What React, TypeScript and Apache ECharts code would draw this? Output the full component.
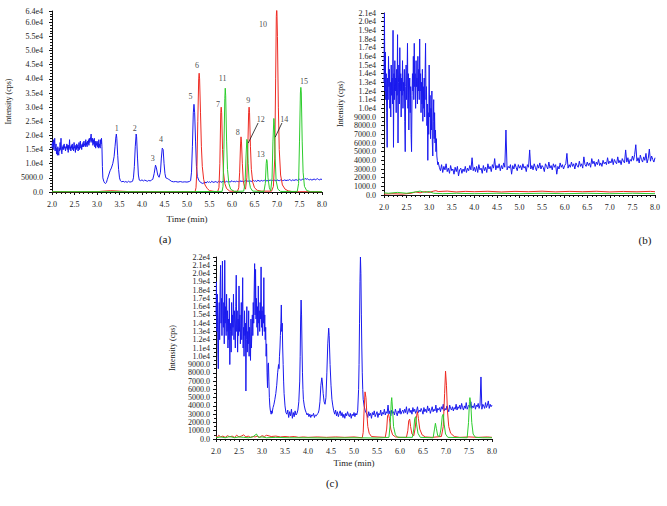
import React, { useEffect, useRef } from "react";
import * as echarts from "echarts";

// ---------- shared axis settings ----------
const X_MIN = 2.0;
const X_MAX = 8.0;
const X_INTERVAL = 0.5;
const Y_MAX_A = 64000;
const Y_MAX_B = 21000;
const Y_MAX_C = 22000;
const Y_INT_A = 5000;
const Y_INT_B = 1000;
const Y_INT_C = 1000;
const PANEL_LABELS = ["(a)", "(b)", "(c)"];

type Seg = { t0: number; dt: number; v: number[] };
type Pt = [number, number];

// ---------- panel (a) ----------
const A_BLUE_NOISE: Seg = {
  t0: 2.0,
  dt: 0.01,
  v: [
    15500, 17500, 16000, 18500, 15000, 16500, 19000, 14500, 16000, 17000,
    13500, 15500, 13000, 16000, 14000, 13000, 15500, 14500, 17500, 15000,
    19000, 14000, 13500, 16000, 15000, 16500, 15000, 17000, 15500, 16000,
    14500, 16000, 15500, 17000, 15000, 16500, 14000, 16500, 15500, 18500,
    15000, 16000, 14500, 16500, 15500, 17000, 15000, 16000, 14500, 17500,
    15500, 16000, 14000, 16500, 15000, 17000, 15500, 16500, 14500, 16000,
    17500, 15000, 16500, 18000, 15500, 16500, 15000, 17000, 16000, 17500,
    16000, 18000, 16500, 17000, 16000, 18500, 16500, 17500, 16000, 18000,
    17000, 18500, 16500, 19000, 17500, 18000, 19500, 20500, 18000, 17500,
    19000, 16500, 18500, 17000, 19000, 16000, 18000, 15500, 17500, 16500,
    18000, 16000, 17500, 15500, 18500, 16000, 17000, 15500, 18500, 17000,
    19000, 16000,
  ],
};
const A_BLUE_MID: Pt[] = [
  [3.12, 9000], [3.13, 5000], [3.15, 3800], [3.17, 3200], [3.19, 3000], [3.21, 3400],
  [3.23, 4500], [3.26, 6000], [3.29, 7500], [3.32, 8500], [3.35, 10000], [3.38, 12500],
  [3.4, 16000], [3.42, 19500], [3.43, 20500], [3.44, 19000], [3.46, 13000], [3.48, 8000],
  [3.5, 5000], [3.52, 4000], [3.55, 3600], [3.58, 3800], [3.61, 3500], [3.64, 3700],
  [3.67, 3400], [3.7, 3800], [3.73, 3500], [3.76, 3600], [3.79, 3800], [3.81, 5000],
  [3.83, 9000], [3.85, 16000], [3.87, 20500], [3.88, 19500], [3.9, 12000], [3.92, 6000],
  [3.94, 4200], [3.97, 4000], [4.0, 4300], [4.03, 3900], [4.06, 4200], [4.09, 4000],
  [4.12, 3800], [4.15, 4100], [4.18, 3900], [4.21, 4200], [4.24, 4500], [4.27, 6500],
  [4.3, 9500], [4.32, 8500], [4.35, 6000], [4.38, 5200], [4.41, 7000], [4.43, 12000],
  [4.45, 15500], [4.47, 15000], [4.49, 10000], [4.51, 6500], [4.53, 5000], [4.56, 4800],
  [4.59, 4500], [4.62, 4200], [4.65, 3800], [4.7, 3600], [4.75, 3700], [4.8, 3500],
  [4.85, 3700], [4.9, 3500], [4.95, 3600], [5.0, 3500], [5.05, 3700], [5.08, 4000],
  [5.1, 7000], [5.12, 16000], [5.14, 28000], [5.155, 31000], [5.17, 28000], [5.19, 18000],
  [5.21, 9000], [5.23, 5500], [5.26, 4200], [5.3, 3400], [5.35, 3000],
];
const A_BLUE_TAIL: Seg = {
  t0: 5.4,
  dt: 0.025,
  v: [
    3500, 3200, 3700, 3400, 3600, 3300, 3800, 3500, 3400, 3700, 3600, 3300, 3800, 3500, 3700, 3400, 3900, 3600, 3500, 3800,
    3600, 3900, 3500, 3700, 4000, 3600, 3800, 3500, 3900, 3700, 3600, 4000, 3700, 3900, 3600, 3800, 4100, 3700, 3900, 3800,
    4000, 3700, 3900, 4100, 3800, 4000, 3700, 4200, 3900, 3800, 4100, 3900, 4000, 4200, 3800, 4100, 3900, 4000, 4300, 3900,
    4100, 4000, 4200, 3900, 4300, 4100, 4000, 4200, 4400, 4000, 4100, 4300, 4000, 4200, 4100, 4400, 4200, 4000, 4300, 4100,
    4200, 4400, 4100, 4300, 4500, 4200, 4300, 4600, 4400, 4800, 4500, 4700, 4400, 4300, 4500, 4200, 4400, 4600, 4300, 4500,
    4700, 4400, 4300, 4600, 4400,
  ],
};
const A_RED: Pt[] = [
  [2.0, 80], [2.5, 60], [3.0, 100], [3.1, 250], [3.3, 450], [3.5, 300], [3.7, 150], [4.0, 100],
  [4.5, 80], [5.0, 100], [5.18, 100],
  [5.2, 1500], [5.22, 8000], [5.24, 25000], [5.26, 40000], [5.27, 42000], [5.28, 40000],
  [5.3, 28000], [5.32, 16000], [5.34, 9000], [5.37, 4500], [5.4, 2500], [5.45, 1200],
  [5.5, 500], [5.6, 200], [5.68, 100],
  [5.71, 1500], [5.73, 10000], [5.75, 28000], [5.76, 30000], [5.77, 28000], [5.79, 15000],
  [5.81, 7000], [5.84, 3000], [5.88, 1200], [5.95, 300], [6.12, 200],
  [6.15, 1500], [6.17, 7000], [6.19, 17000], [6.2, 19500], [6.21, 18000], [6.23, 10000],
  [6.25, 4000], [6.28, 1500], [6.3, 1000], [6.33, 5000], [6.35, 15000], [6.37, 28000],
  [6.38, 30000], [6.39, 28000], [6.41, 16000], [6.43, 8000], [6.46, 3500], [6.5, 1500],
  [6.56, 600], [6.65, 300], [6.88, 300],
  [6.92, 2000], [6.95, 12000], [6.97, 40000], [6.985, 62000], [6.995, 66000], [7.01, 55000],
  [7.03, 30000], [7.05, 15000], [7.08, 6000], [7.12, 2500], [7.18, 1000], [7.25, 400],
  [7.35, 100], [7.5, 100], [8.0, 80],
];
const A_GREEN: Pt[] = [
  [2.0, 100], [3.0, 120], [4.0, 100], [5.0, 120], [5.78, 200],
  [5.8, 2000], [5.82, 15000], [5.84, 33000], [5.85, 36700], [5.86, 34000], [5.88, 18000],
  [5.9, 8000], [5.93, 3000], [5.97, 1000], [6.05, 200], [6.26, 300],
  [6.29, 3000], [6.31, 12000], [6.33, 18600], [6.34, 18000], [6.36, 10000], [6.38, 4000],
  [6.41, 1500], [6.46, 300], [6.71, 200],
  [6.74, 3000], [6.76, 10000], [6.77, 11500], [6.78, 11000], [6.8, 5000], [6.83, 1500],
  [6.86, 400], [6.89, 5000], [6.91, 18000], [6.93, 26000], [6.94, 24000], [6.96, 12000],
  [6.98, 4000], [7.02, 1000], [7.08, 200], [7.45, 200],
  [7.48, 3000], [7.5, 18000], [7.52, 35000], [7.53, 37000], [7.54, 35000], [7.56, 18000],
  [7.58, 7000], [7.61, 2000], [7.66, 500], [7.75, 100], [8.0, 100],
];
const A_PEAK_LABELS: [number, number, string][] = [
  [3.44, 22600, "1"], [3.84, 22600, "2"], [4.24, 11700, "3"], [4.42, 18400, "4"],
  [5.08, 33600, "5"], [5.22, 44600, "6"], [5.69, 30800, "7"], [5.79, 40300, "11"],
  [6.13, 21200, "8"], [6.36, 32200, "9"], [6.64, 25800, "12"], [6.64, 13100, "13"],
  [7.16, 25800, "14"], [6.69, 59400, "10"], [7.6, 38900, "15"],
];
const A_LEADERS: [Pt, Pt][] = [
  [[6.58, 24400], [6.36, 17300]],
  [[7.11, 24400], [6.96, 19400]],
];

// ---------- panel (b) ----------
const B_BLUE_NOISE: Seg = {
  t0: 2.0,
  dt: 0.01,
  v: [
    13000, 21000, 12000, 16500, 11000, 14000, 9500, 5500, 13500, 11000,
    16000, 12500, 14500, 10000, 13000, 9000, 15000, 11500, 13500, 10500,
    19000, 5500, 14000, 11000, 15500, 12000, 13500, 9500, 14500, 11500,
    18500, 6000, 13000, 15000, 10500, 17000, 12000, 14000, 9000, 13500,
    11500, 15500, 10000, 13000, 12000, 14500, 8500, 5000, 12500, 15000,
    11000, 13500, 17500, 10000, 14000, 7500, 12000, 13500, 9500, 12500,
    7000, 5000, 11500, 14000, 12000, 16000, 11000, 17500, 12500, 14000,
    10000, 15500, 12500, 13500, 10500, 16000, 12000, 14500, 11000, 18000,
    12000, 14000, 9500, 13000, 10500, 14500, 8500, 12500, 10000, 13500,
    9000, 14000, 17500, 11000, 12500, 8000, 10500, 4000, 9500, 7000,
    15000, 9000, 11500, 6500, 10000, 7500, 12000, 6000, 4500, 8500,
    11000, 6500, 9500, 6000, 7500, 5000, 6500, 4500, 4000, 3500,
    3800,
  ],
};
const B_BLUE_TAIL: Seg = {
  t0: 3.225,
  dt: 0.025,
  v: [
    3200, 2800, 3500, 2600, 3300, 2900, 3600, 2700, 3100, 2500, 3400, 2800,
    3000, 2400, 3200, 2700, 3300, 2200, 2900, 3100, 2500, 3000, 2700, 3300, 2600, 3100, 2800, 3400, 2900, 4300, 2800, 3200,
    2700, 3300, 2600, 3500, 2900, 3100, 2500, 3400, 2800, 3200, 2600, 3600, 3000, 3300, 2700, 3500, 3100, 4200, 2900, 3400,
    3100, 3600, 2800, 3400, 3000, 3700, 3200, 7500, 2900, 3300, 3100, 3500, 2400, 3400, 3000, 3600, 3200, 2800, 3500, 3100,
    3400, 2900, 3600, 3100, 3300, 2700, 3500, 3200, 5200, 3000, 3400, 2900, 3600, 3200, 2800, 3500, 3100, 3700, 3000, 3400,
    3200, 2700, 3600, 3300, 3000, 3800, 3100, 3400, 2900, 3600, 3200, 3500, 2400, 3300, 3000, 3700, 3200, 3500, 3000, 3400,
    3600, 4800, 3100, 3500, 3200, 3800, 3300, 3600, 3000, 3700, 3400, 3200, 3900, 3300, 3600, 3100, 4400, 3500, 3300, 3800,
    3400, 3700, 3200, 4200, 3600, 3900, 3300, 3800, 3500, 4100, 3400, 3700, 3300, 4000, 3600, 3800, 3500, 4300, 3600, 3900,
    3700, 4200, 3500, 4100, 3800, 3600, 4400, 3700, 4000, 3500, 4200, 3900, 3700, 5200, 3800, 4300, 3600, 4100, 3900, 4500,
    4000, 4700, 5800, 3900, 4300, 3700, 4600, 4100, 3800, 4400, 4000, 4800, 3700, 4200, 5300, 3900, 4500, 4100, 3800, 4300,
  ],
};
const B_RED: Pt[] = [
  [2.0, 100], [2.2, 150], [2.4, 100], [2.6, 200], [2.7, 350], [2.8, 250], [2.9, 400], [3.0, 300],
  [3.1, 450], [3.15, 500], [3.2, 400], [3.4, 450], [3.6, 350], [3.8, 420], [4.0, 380], [4.3, 430],
  [4.6, 350], [4.9, 420], [5.2, 380], [5.5, 440], [5.8, 360], [6.1, 420], [6.4, 380], [6.7, 430],
  [7.0, 350], [7.3, 410], [7.6, 370], [7.9, 420], [8.0, 380],
];
const B_GREEN: Pt[] = [
  [2.0, 250], [2.1, 200], [2.3, 300], [2.5, 200], [2.7, 350], [2.8, 450], [2.9, 300], [3.0, 400],
  [3.1, 200], [3.3, 150], [3.6, 200], [4.0, 150], [4.5, 200], [5.0, 150], [5.5, 200], [6.0, 150],
  [6.5, 200], [7.0, 150], [7.5, 200], [8.0, 150],
];

// ---------- panel (c) ----------
const C_BLUE_NOISE: Seg = {
  t0: 2.0,
  dt: 0.01,
  v: [
    15000, 19000, 13000, 17500, 11000, 8500, 14500, 16500, 12000, 18500,
    21000, 14000, 17000, 12500, 21500, 15000, 13500, 16500, 11500, 21600,
    14000, 16000, 12500, 17500, 13000, 15500, 11000, 14500, 12000, 17000,
    9000, 14000, 13000, 10500, 16500, 12500, 15000, 13500, 17500, 12000,
    15500, 14000, 11000, 16000, 19800, 13000, 15500, 10500, 14500, 12500,
    18500, 13000, 15000, 11500, 14000, 16500, 12000, 14500, 19500, 11000,
    13500, 10000, 15500, 12500, 14000, 5800, 12000, 16000, 10500, 13000,
    11500, 15500, 10000, 13500, 12000, 9500, 14500, 11000, 13000, 15000,
    12500, 16500, 14000, 18000, 21200, 15000, 20500, 14500, 17000, 13500,
    16000, 12500, 18500, 14000, 15500, 13000, 16500, 14500, 20800, 13500,
    15500, 12500, 16000, 14000, 19500, 13000, 15000, 12000, 13500, 10000,
    11500, 8000, 6200,
  ],
};
const C_BLUE_MID: Pt[] = [
  [3.13, 9000], [3.14, 9200], [3.15, 7000], [3.16, 5000], [3.17, 4000], [3.18, 3500],
  [3.19, 3200], [3.2, 3000], [3.21, 3400], [3.22, 3100], [3.23, 3500], [3.24, 3800],
  [3.26, 4200], [3.28, 4800], [3.3, 5500], [3.32, 6500], [3.34, 8000], [3.36, 9000],
  [3.37, 8500], [3.38, 10000], [3.39, 11000], [3.4, 12500], [3.41, 14000], [3.42, 16200],
  [3.43, 13000], [3.44, 14000], [3.45, 11000], [3.46, 9000], [3.47, 7000], [3.48, 5500],
  [3.5, 4000], [3.52, 3200], [3.54, 3000], [3.56, 3500], [3.58, 2600], [3.6, 3300],
  [3.62, 2800], [3.64, 3600], [3.66, 2500], [3.68, 3200], [3.7, 2700], [3.72, 3400],
  [3.74, 2900], [3.76, 3100], [3.78, 3500], [3.8, 4500], [3.82, 7000], [3.83, 10000],
  [3.84, 14500], [3.85, 16800], [3.86, 15000], [3.87, 11000], [3.88, 8000], [3.89, 6000],
  [3.9, 4800], [3.92, 4000], [3.94, 3500], [3.96, 3200], [3.98, 2900], [4.0, 3100],
  [4.02, 2700], [4.04, 3000], [4.06, 2600], [4.08, 2900], [4.1, 2800], [4.12, 3100],
  [4.14, 2600], [4.16, 2900], [4.18, 2800], [4.2, 3000], [4.22, 3100], [4.24, 3500],
  [4.26, 4500], [4.28, 6500], [4.3, 7400], [4.31, 7000], [4.33, 5500], [4.35, 4500],
  [4.37, 4200], [4.39, 5000], [4.41, 8000], [4.43, 11500], [4.45, 13400], [4.46, 12500],
  [4.48, 9000], [4.5, 6500], [4.52, 4800], [4.54, 4000], [4.56, 3400], [4.58, 3000],
  [4.6, 3500], [4.62, 2800], [4.64, 3300], [4.66, 2700], [4.68, 3100], [4.7, 3400],
  [4.72, 2800], [4.74, 3200], [4.76, 2600], [4.78, 3000], [4.8, 2500], [4.82, 3100],
  [4.84, 2800], [4.86, 3300], [4.88, 2900], [4.9, 2700], [4.92, 3100], [4.94, 2500],
  [4.96, 3000], [4.98, 2800], [5.0, 3200], [5.02, 2700], [5.04, 3100], [5.06, 2900],
  [5.08, 3400], [5.1, 6000], [5.11, 9000], [5.12, 14000], [5.13, 19000], [5.14, 22000],
  [5.15, 20000], [5.16, 15000], [5.17, 11000], [5.18, 8000], [5.19, 6000], [5.2, 4800],
  [5.22, 4000], [5.24, 3500], [5.26, 3200],
];
const C_BLUE_TAIL: Seg = {
  t0: 5.28,
  dt: 0.02,
  v: [
    3000, 2600, 3300, 2800, 3100, 2500, 3200, 2900, 3400, 2700, 3000, 3300, 2600, 3100, 2900, 3500, 2800, 3200, 3000, 3600,
    2900, 3300, 3100, 4100, 3000, 3400, 2800, 3500, 3100, 3300, 2900, 3600, 3200, 2800, 3400, 3100, 3700, 3000, 3300, 3500,
    3100, 3600, 3200, 3900, 3000, 3400, 3700, 3200, 3500, 3000, 3800, 3300, 3600, 3100, 3400, 3900, 3200, 3500, 3300, 3700,
    3400, 3000, 3800, 3300, 3600, 3200, 4000, 3400, 3700, 3100, 3500, 3900, 3300, 3600, 3400, 4100, 3200, 3700, 3500, 3800,
    3300, 3900, 3600, 4200, 3400, 3700, 3500, 4000, 3600, 3300, 4100, 3700, 3500, 3900, 3400, 3800, 3600, 4200, 3500, 3900,
    3700, 4100, 3600, 4300, 3800, 3500, 4000, 3700, 4400, 3600, 3900, 4100, 3800, 4500, 3700, 4000, 3800, 4300, 3600, 4100,
    3900, 4300, 3700, 4100, 7500, 3600, 4200, 4000, 3700, 4400, 3800, 4100, 4600, 3700, 4200, 3900, 4100,
  ],
};
const C_RED: Pt[] = [
  [2.0, 400], [2.03, 200], [2.06, 450], [2.1, 250], [2.15, 350], [2.2, 200], [2.25, 400], [2.3, 250],
  [2.35, 350], [2.4, 200], [2.45, 450], [2.5, 250], [2.55, 350], [2.6, 500], [2.65, 250], [2.7, 350],
  [2.75, 200], [2.8, 300], [2.85, 250], [2.9, 350], [2.95, 200], [3.0, 400], [3.05, 300], [3.1, 450],
  [3.2, 300], [3.3, 350], [3.4, 250], [3.5, 300], [3.6, 250], [3.7, 300], [3.8, 200], [3.9, 250],
  [4.0, 200], [4.2, 250], [4.4, 200], [4.6, 250], [4.8, 200], [5.0, 250], [5.18, 150],
  [5.2, 800], [5.22, 3500], [5.24, 5700], [5.26, 5000], [5.28, 3000], [5.3, 1500], [5.33, 700],
  [5.38, 300], [5.5, 250], [5.68, 200],
  [5.71, 1200], [5.73, 2800], [5.75, 3000], [5.77, 2500], [5.8, 1200], [5.84, 500], [5.9, 250],
  [6.0, 200], [6.14, 200], [6.17, 1000], [6.19, 2200], [6.21, 2400], [6.23, 1500], [6.26, 600],
  [6.3, 400], [6.33, 1300], [6.36, 2800], [6.38, 3300], [6.4, 2500], [6.43, 1200], [6.48, 500],
  [6.55, 250], [6.7, 200], [6.9, 300],
  [6.94, 1500], [6.97, 5500], [6.99, 8200], [7.01, 6500], [7.03, 3500], [7.06, 1500], [7.1, 700],
  [7.18, 300], [7.3, 200], [7.5, 250], [7.7, 200], [7.9, 250], [8.0, 200],
];
const C_GREEN: Pt[] = [
  [2.0, 150], [2.1, 250], [2.2, 150], [2.3, 300], [2.4, 150], [2.5, 250], [2.6, 200], [2.7, 150],
  [2.8, 250], [2.88, 600], [2.92, 200], [3.0, 250], [3.1, 150], [3.3, 200], [3.6, 150], [4.0, 150],
  [4.5, 120], [5.0, 150], [5.5, 120], [5.76, 200],
  [5.79, 2000], [5.81, 4500], [5.82, 5000], [5.84, 3500], [5.86, 1500], [5.9, 500], [5.95, 200],
  [6.27, 200], [6.3, 1200], [6.32, 2500], [6.34, 2700], [6.36, 1800], [6.39, 700], [6.44, 200],
  [6.72, 150], [6.75, 1200], [6.77, 1900], [6.79, 1300], [6.82, 400], [6.86, 300], [6.89, 1200],
  [6.92, 2800], [6.94, 3000], [6.96, 1800], [6.99, 600], [7.04, 200], [7.46, 150],
  [7.49, 2000], [7.51, 4500], [7.52, 5000], [7.54, 4200], [7.56, 2000], [7.59, 600], [7.64, 200],
  [7.8, 150], [8.0, 150],
];

// ---------- helpers ----------
const segPts = (s: Seg): Pt[] => s.v.map((v, i) => [+(s.t0 + i * s.dt).toFixed(3), v]);

const BLUE = "#1a1aee";
const RED = "#ee2a22";
const GREEN = "#2ccc2c";
const FONT = "'Liberation Serif', 'DejaVu Serif', serif";

const yFmt = (v: number) => (v >= 10000 ? (v / 10000).toFixed(1) + "e4" : v.toFixed(1));

function xAxisCfg(grid: number, showName: boolean, nameGap: number) {
  return {
    type: "value",
    gridIndex: grid,
    min: X_MIN,
    max: X_MAX,
    interval: X_INTERVAL,
    name: showName ? "Time (min)" : "",
    nameLocation: "middle",
    nameGap,
    nameTextStyle: { fontFamily: FONT, fontSize: 9, color: "#222" },
    axisLine: { show: true, onZero: false, lineStyle: { color: "#111", width: 1 } },
    axisTick: { show: true, length: 3, lineStyle: { color: "#111" } },
    minorTick: { show: true, splitNumber: 5, length: 2, lineStyle: { color: "#111" } },
    splitLine: { show: false },
    axisLabel: {
      formatter: (v: number) => v.toFixed(1),
      fontFamily: FONT,
      fontSize: 8,
      color: "#222",
      margin: 8,
    },
  };
}

function yAxisCfg(grid: number, max: number, interval: number, margin: number, minor: number) {
  return {
    type: "value",
    gridIndex: grid,
    min: 0,
    max,
    interval,
    name: "Intensity (cps)",
    nameLocation: "middle",
    nameGap: 40,
    nameRotate: 90,
    nameTextStyle: { fontFamily: FONT, fontSize: 8, color: "#222" },
    axisLine: { show: true, onZero: false, lineStyle: { color: "#111", width: 1 } },
    axisTick: { show: true, length: 3, lineStyle: { color: "#111" } },
    minorTick: { show: true, splitNumber: minor, length: 2, lineStyle: { color: "#111" } },
    splitLine: { show: false },
    axisLabel: { formatter: yFmt, fontFamily: FONT, fontSize: 8, color: "#222", margin },
  };
}

function lineSeries(grid: number, data: Pt[], color: string) {
  return {
    type: "line",
    xAxisIndex: grid,
    yAxisIndex: grid,
    data,
    showSymbol: false,
    symbol: "none",
    silent: true,
    lineStyle: { color, width: 1 },
    itemStyle: { color },
  };
}

export default function App() {
  const ref = useRef<HTMLDivElement>(null);

  useEffect(() => {
    if (!ref.current) return;
    const chart = echarts.init(ref.current, undefined, { renderer: "svg" });

    const aBlue = [...segPts(A_BLUE_NOISE), ...A_BLUE_MID, ...segPts(A_BLUE_TAIL)];
    const bBlue = [...segPts(B_BLUE_NOISE), ...segPts(B_BLUE_TAIL)];
    const cBlue = [...segPts(C_BLUE_NOISE), ...C_BLUE_MID, ...segPts(C_BLUE_TAIL)];

    const option = {
      animation: false,
      backgroundColor: "#ffffff",
      grid: [
        { left: 52, top: 11, width: 270, height: 181 },
        { left: 384, top: 13, width: 271, height: 182 },
        { left: 216, top: 257, width: 276, height: 182 },
      ],
      xAxis: [xAxisCfg(0, true, 22), xAxisCfg(1, false, 20), xAxisCfg(2, true, 19)],
      yAxis: [
        yAxisCfg(0, Y_MAX_A, Y_INT_A, 9, 5),
        yAxisCfg(1, Y_MAX_B, Y_INT_B, 8, 2),
        yAxisCfg(2, Y_MAX_C, Y_INT_C, 6, 2),
      ],
      series: [
        lineSeries(0, aBlue, BLUE),
        lineSeries(0, A_RED, RED),
        lineSeries(0, A_GREEN, GREEN),
        {
          type: "scatter",
          xAxisIndex: 0,
          yAxisIndex: 0,
          silent: true,
          symbolSize: 1,
          itemStyle: { color: "rgba(0,0,0,0)" },
          data: A_PEAK_LABELS,
          label: {
            show: true,
            position: "inside",
            formatter: (p: any) => p.data[2],
            fontFamily: FONT,
            fontSize: 8,
            color: "#111",
          },
          markLine: {
            silent: true,
            symbol: "none",
            label: { show: false },
            lineStyle: { color: "#111", width: 0.8, type: "solid" },
            data: A_LEADERS.map(([p, q]) => [{ coord: p }, { coord: q }]),
          },
        },
        lineSeries(1, bBlue, BLUE),
        lineSeries(1, B_RED, RED),
        lineSeries(1, B_GREEN, GREEN),
        lineSeries(2, cBlue, BLUE),
        lineSeries(2, C_RED, RED),
        lineSeries(2, C_GREEN, GREEN),
      ],
      graphic: [
        { type: "text", x: 165, y: 239, style: { text: PANEL_LABELS[0], fontFamily: FONT, fontSize: 11, fill: "#111", align: "center", verticalAlign: "middle" } },
        { type: "text", x: 645, y: 240, style: { text: PANEL_LABELS[1], fontFamily: FONT, fontSize: 11, fill: "#111", align: "center", verticalAlign: "middle" } },
        { type: "text", x: 332, y: 483, style: { text: PANEL_LABELS[2], fontFamily: FONT, fontSize: 11, fill: "#111", align: "center", verticalAlign: "middle" } },
      ],
    };

    chart.setOption(option as any);
    return () => chart.dispose();
  }, []);

  return (
    <div
      ref={ref}
      style={{ position: "fixed", left: 0, top: 0, width: 667, height: 506, background: "#fff" }}
    />
  );
}
